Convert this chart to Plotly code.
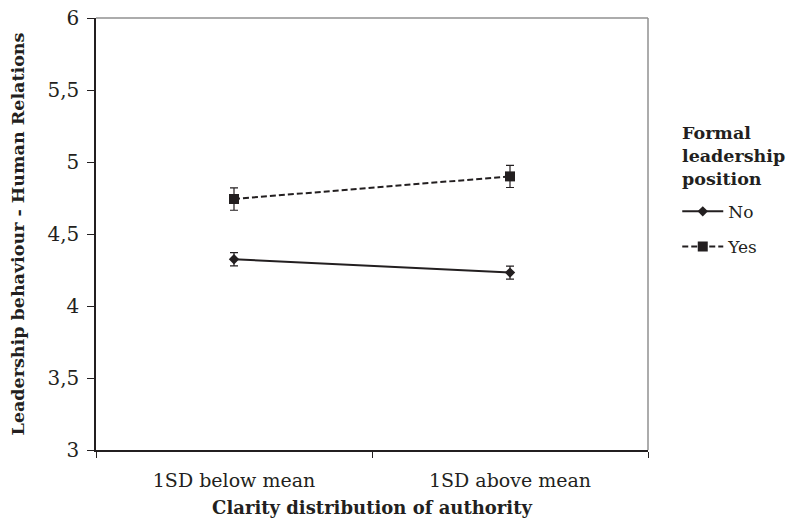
import plotly.graph_objects as go

categories = ["1SD below mean", "1SD above mean"]
no_values = [4.325, 4.232]
no_err = [0.046, 0.045]
yes_values = [4.743, 4.90]
yes_err = [0.078, 0.077]
y_ticks = [3, 3.5, 4, 4.5, 5, 5.5, 6]
legend_title = "Formal<br>leadership<br>position"

ink = "#231f20"
serif = "DejaVu Serif, Liberation Serif, serif"

fig = go.Figure()
fig.add_trace(go.Scatter(
    x=categories, y=no_values, name="No", mode="lines+markers", legendgroup="no",
    line=dict(color=ink, width=2, dash="solid"),
    marker=dict(symbol="diamond", size=8, color=ink),
    error_y=dict(type="data", array=no_err, color=ink, thickness=1.2, width=4),
))
fig.add_trace(go.Scatter(
    x=categories, y=yes_values, name="Yes", mode="lines+markers", legendgroup="yes",
    line=dict(color=ink, width=2, dash="6px,3px"),
    marker=dict(symbol="square", size=10, color=ink),
    error_y=dict(type="data", array=yes_err, color=ink, thickness=1.2, width=4),
))

# top and right frame lines (grey)
fig.add_shape(type="line", xref="paper", yref="paper", x0=0, x1=1, y0=1, y1=1,
              line=dict(color="#909090", width=1.5))
fig.add_shape(type="line", xref="paper", yref="paper", x0=1, x1=1, y0=0, y1=1,
              line=dict(color="#909090", width=1.5))

# legend title as a separate text block
fig.add_annotation(
    text="<b>" + legend_title + "</b>", xref="paper", yref="paper",
    x=1.058, y=0.762, xanchor="left", yanchor="top", align="left",
    showarrow=False, font=dict(size=17.5, family=serif, color=ink),
)

fig.update_layout(
    width=792, height=524,
    margin=dict(l=96, r=144, t=18, b=74),
    paper_bgcolor="white", plot_bgcolor="white",
    separators=",.",
    font=dict(family=serif, color=ink, size=17),
    showlegend=True,
    legend=dict(
        x=1.053, xanchor="left", y=0.593, yanchor="top",
        font=dict(size=17, family=serif),
        tracegroupgap=10, itemwidth=41,
        bgcolor="rgba(0,0,0,0)",
    ),
    xaxis=dict(
        type="category", range=[-0.5, 1.5], automargin=False,
        showline=True, linecolor=ink, linewidth=1.5,
        ticks="outside", tickson="boundaries", ticklen=6, tickcolor=ink,
        showgrid=False, zeroline=False, ticklabelstandoff=12,
        tickfont=dict(size=19, family=serif),
        title=dict(text="<b>Clarity distribution of authority</b>", font=dict(size=18, family=serif), standoff=12),
    ),
    yaxis=dict(
        range=[3, 6], tickvals=y_ticks, automargin=False,
        showline=True, linecolor=ink, linewidth=1.5,
        ticks="outside", ticklen=7, tickcolor=ink,
        showgrid=False, zeroline=False, ticklabelstandoff=4,
        tickfont=dict(size=20, family=serif),
        title=dict(text="<b>Leadership behaviour - Human Relations</b>", font=dict(size=17.5, family=serif), standoff=18),
    ),
)

# remove the page's default body margin so the 792x524 figure fills the window exactly
fig.write_html("out.html", config={"displayModeBar": False},
               post_script="document.body.style.margin='0';")
